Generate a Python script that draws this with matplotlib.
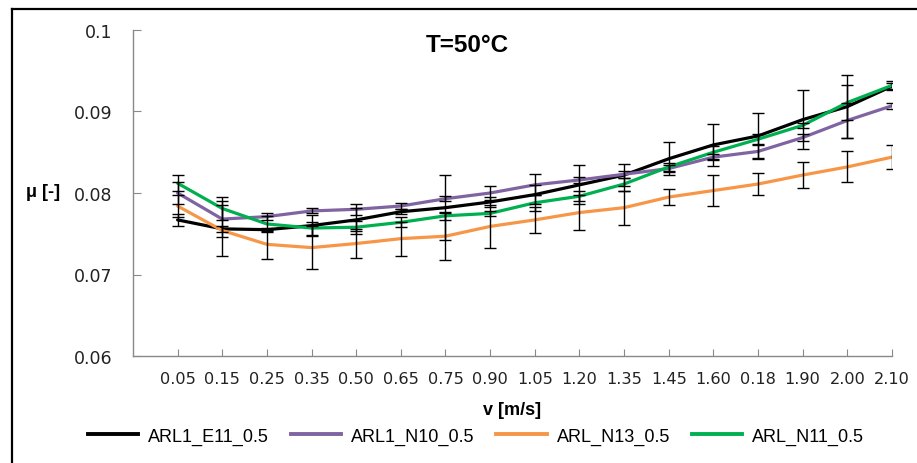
import matplotlib
matplotlib.use("Agg")
import matplotlib.pyplot as plt
from matplotlib.lines import Line2D
import numpy as np

# category labels (as printed on the chart)
speeds = ["0.05", "0.15", "0.25", "0.35", "0.50", "0.65", "0.75", "0.90", "1.05",
          "1.20", "1.35", "1.45", "1.60", "0.18", "1.90", "2.00", "2.10"]

series_names = ["ARL1_E11_0.5", "ARL1_N10_0.5", "ARL_N13_0.5", "ARL_N11_0.5"]

e11 = [0.0767, 0.0756, 0.0755, 0.0760, 0.0767, 0.0777, 0.0782, 0.0789, 0.0798,
       0.0810, 0.0822, 0.0842, 0.0859, 0.0870, 0.0890, 0.0906, 0.0931]
n10 = [0.0800, 0.0768, 0.0771, 0.0778, 0.0780, 0.0784, 0.0793, 0.0800, 0.0810,
       0.0816, 0.0823, 0.0830, 0.0844, 0.0851, 0.0868, 0.0889, 0.0907]
n13 = [0.0784, 0.0754, 0.0737, 0.0733, 0.0738, 0.0744, 0.0747, 0.0759, 0.0767,
       0.0776, 0.0782, 0.0795, 0.0803, 0.0811, 0.0822, 0.0832, 0.0844]
n11 = [0.0812, 0.0781, 0.0762, 0.0757, 0.0758, 0.0764, 0.0772, 0.0775, 0.0788,
       0.0796, 0.0811, 0.0832, 0.0850, 0.0866, 0.0883, 0.0911, 0.0932]

e11_err = [0.0007, 0.0004, 0.0002, 0.0013, 0.0014, 0.0003, 0.0040, 0.0006, 0.0012,
           0.0024, 0.0014, 0.0020, 0.0026, 0.0028, 0.0036, 0.0039, 0.0004]
n10_err = [0.0014, 0.0022, 0.0004, 0.0003, 0.0007, 0.0004, 0.0003, 0.0009, 0.0013,
           0.0004, 0.0004, 0.0004, 0.0004, 0.0008, 0.0004, 0.0021, 0.0004]
n13_err = [0.0013, 0.0031, 0.0018, 0.0026, 0.0018, 0.0021, 0.0029, 0.0026, 0.0016,
           0.0021, 0.0021, 0.0010, 0.0019, 0.0014, 0.0016, 0.0019, 0.0015]
n11_err = [0.0010, 0.0014, 0.0010, 0.0008, 0.0008, 0.0006, 0.0005, 0.0003, 0.0010,
           0.0006, 0.0008, 0.0005, 0.0008, 0.0006, 0.0003, 0.0022, 0.0006]

colors = ["#000000", "#8064A2", "#F79646", "#00B050"]
values = [e11, n10, n13, n11]
errors = [e11_err, n10_err, n13_err, n11_err]

fig = plt.figure(figsize=(9.17, 4.64), dpi=100)
ax = fig.add_axes([0.145, 0.2306, 0.8277, 0.7026])

x = np.arange(len(speeds))
for vals, errs, col in zip(values, errors, colors):
    ax.plot(x, vals, color=col, lw=2.3, zorder=2, solid_capstyle="round")
    ax.errorbar(x, vals, yerr=errs, fmt="none", ecolor="black",
                elinewidth=1.0, capsize=4.3, capthick=1.0, zorder=3)

ax.set_xlim(-1, len(speeds) - 1)
ax.set_ylim(0.06, 0.1)
ax.set_xticks(x)
ax.set_xticklabels(speeds, fontsize=11.6, color="#222222")
ax.set_yticks([0.06, 0.07, 0.08, 0.09, 0.1])
ax.set_yticklabels(["0.06", "0.07", "0.08", "0.09", "0.1"], fontsize=12.5, color="#222222")
ax.tick_params(axis="y", direction="in", length=6, color="#898989", pad=15)
ax.tick_params(axis="x", direction="in", length=5, color="#898989", pad=11)
for side in ["top", "right"]:
    ax.spines[side].set_visible(False)
for side in ["left", "bottom"]:
    ax.spines[side].set_color("#898989")
    ax.spines[side].set_linewidth(1.0)

ax.text(0.44, 0.955, "T=50°C", transform=ax.transAxes, ha="center", va="center",
        fontsize=17.5, fontweight="bold", family="Liberation Sans")

fig.text(43 / 917, 1 - 193 / 464, "μ [-]", ha="center", va="center",
         fontsize=13, fontweight="bold", family="Liberation Sans")
fig.text(512 / 917, 1 - 411 / 464, "v [m/s]", ha="center", va="center",
         fontsize=13, fontweight="bold", family="Liberation Sans")

handles = [Line2D([], [], color=c, lw=2.8) for c in colors]
fig.legend(handles, series_names, loc="center", bbox_to_anchor=(476 / 917, 1 - 437 / 464),
           ncol=4, frameon=False, handlelength=2.8, handletextpad=0.55,
           columnspacing=1.2, prop={"family": "Liberation Sans", "size": 13})

# outer chart border
fig.add_artist(Line2D([12 / 917, 1.0], [1 - 10 / 464, 1 - 10 / 464],
                      transform=fig.transFigure, color="black", lw=1.6))
fig.add_artist(Line2D([12 / 917, 12 / 917], [0.0, 1 - 10 / 464],
                      transform=fig.transFigure, color="black", lw=1.6))

fig.savefig("out.png", dpi=100)
